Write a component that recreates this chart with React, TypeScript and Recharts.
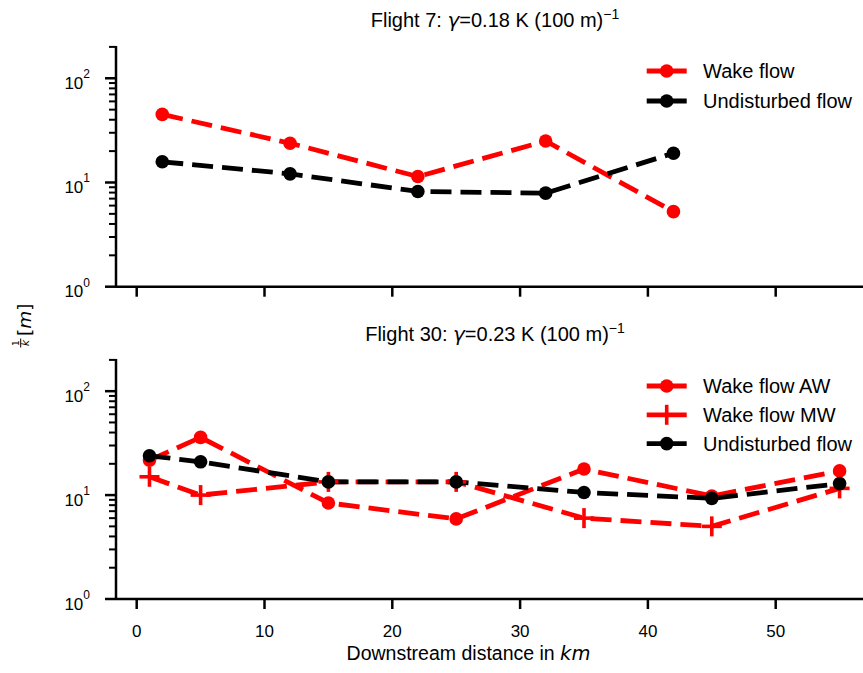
import React from 'react';
import { LineChart, Line, XAxis, YAxis, Legend } from 'recharts';

// ---------- data ----------
const flight7Distance = [2, 12, 22, 32, 42];
const flight7Wake = [45, 23.8, 11.4, 25, 5.25];
const flight7Undisturbed = [15.8, 12.1, 8.2, 7.9, 19.1];

const flight30Distance = [1, 5, 15, 25, 35, 45, 55];
const flight30WakeAW = [21.7, 35.9, 8.4, 5.9, 17.8, 9.8, 17.1];
const flight30WakeMW = [15, 10, 13.4, 13.4, 6, 5, 11.6];
const flight30Undisturbed = [23.9, 20.9, 13.4, 13.4, 10.6, 9.3, 12.9];

const xTicks = [0, 10, 20, 30, 40, 50];
const yMajorTicks = [1, 10, 100];
const yMinorTicks = [2, 3, 4, 5, 6, 7, 8, 9, 20, 30, 40, 50, 60, 70, 80, 90, 200];
const yTicks = [...yMajorTicks, ...yMinorTicks].sort((a, b) => a - b);
const xDomain = [-1.62, 57.7];
const yDomain = [1, 204];

const title7 = { prefix: 'Flight 7: ', value: '=0.18 K (100 m)' };
const title30 = { prefix: 'Flight 30: ', value: '=0.23 K (100 m)' };

const flight7Data = flight7Distance.map((d, i) => ({
  distance: d,
  wake: flight7Wake[i],
  undisturbed: flight7Undisturbed[i],
}));
const flight30Data = flight30Distance.map((d, i) => ({
  distance: d,
  aw: flight30WakeAW[i],
  mw: flight30WakeMW[i],
  undisturbed: flight30Undisturbed[i],
}));

// ---------- styles ----------
const FONT = "'Liberation Sans', Arial, Helvetica, sans-serif";
const MATH = "'DejaVu Sans', sans-serif";
const RED = '#ff0000';
const BLACK = '#000000';
const LINE_W = 4.8;
const DASH = '21 9';
const DOT_R = 6.8;

const YTick = (props: any) => {
  const { x, y, payload } = props;
  const v = payload.value;
  const major = yMajorTicks.includes(v);
  if (!major) {
    return <line x1={x - 7} x2={x} y1={y} y2={y} stroke={BLACK} strokeWidth={2} />;
  }
  const exp = Math.round(Math.log10(v));
  return (
    <g>
      <line x1={x - 11} x2={x} y1={y} y2={y} stroke={BLACK} strokeWidth={2.5} />
      <text x={x - 26} y={y + 10.5} textAnchor="end" fontSize={17} fontFamily={FONT} fill={BLACK}>
        10
        <tspan dy={-10.5} fontSize={12}>{exp}</tspan>
      </text>
    </g>
  );
};

const XTick = (props: any) => {
  const { x, y, payload, showLabel } = props;
  return (
    <g>
      <line x1={x} x2={x} y1={y} y2={y + 10} stroke={BLACK} strokeWidth={2.5} />
      {showLabel && (
        <text x={x} y={y + 38} textAnchor="middle" fontSize={17} fontFamily={FONT} fill={BLACK}>
          {payload.value}
        </text>
      )}
    </g>
  );
};

const CircleDot = (color: string) => (props: any) => {
  const { cx, cy, index } = props;
  if (cx == null || cy == null) return <g key={`c-${index}`} />;
  return <circle key={`c-${index}`} cx={cx} cy={cy} r={DOT_R} fill={color} />;
};

const PlusDot = (color: string) => (props: any) => {
  const { cx, cy, index } = props;
  if (cx == null || cy == null) return <g key={`p-${index}`} />;
  return (
    <g key={`p-${index}`}>
      <line x1={cx - 10} x2={cx + 10} y1={cy} y2={cy} stroke={color} strokeWidth={3.6} />
      <line x1={cx} x2={cx} y1={cy - 10} y2={cy + 10} stroke={color} strokeWidth={3.6} />
    </g>
  );
};

type Row = { label: string; color: string; marker: 'circle' | 'plus' };

const LegendBox = ({ rows, spacing }: { rows: Row[]; spacing: number }) => (
  <svg width={220} height={rows.length * spacing + 20} style={{ display: 'block' }}>
    {rows.map((r, i) => {
      const cy = 16 + i * spacing;
      return (
        <g key={r.label}>
          <line x1={6.7} x2={46.7} y1={cy} y2={cy} stroke={r.color} strokeWidth={LINE_W} />
          {r.marker === 'circle' ? (
            <circle cx={26.7} cy={cy} r={DOT_R} fill={r.color} />
          ) : (
            <g>
              <line x1={16.7} x2={36.7} y1={cy} y2={cy} stroke={r.color} strokeWidth={3.6} />
              <line x1={26.7} x2={26.7} y1={cy - 10} y2={cy + 10} stroke={r.color} strokeWidth={3.6} />
            </g>
          )}
          <text x={63} y={cy + 7.2} fontSize={20} fontFamily={FONT} fill={BLACK}>
            {r.label}
          </text>
        </g>
      );
    })}
  </svg>
);

const legend7: Row[] = [
  { label: 'Wake flow', color: RED, marker: 'circle' },
  { label: 'Undisturbed flow', color: BLACK, marker: 'circle' },
];
const legend30: Row[] = [
  { label: 'Wake flow AW', color: RED, marker: 'circle' },
  { label: 'Wake flow MW', color: RED, marker: 'plus' },
  { label: 'Undisturbed flow', color: BLACK, marker: 'circle' },
];

const axisLine = { stroke: BLACK, strokeWidth: 2.5 };

export default function App() {
  return (
    <div
      style={{
        position: 'absolute',
        left: 0,
        top: 0,
        width: 863,
        height: 673,
        overflow: 'hidden',
        background: '#fff',
      }}
    >
      <div style={{ position: 'absolute', left: 0, top: 0 }}>
        <LineChart
          width={900}
          height={310}
          data={flight7Data}
          margin={{ top: 46, right: 25.9, bottom: 3.3, left: 0 }}
        >
          <XAxis
            dataKey="distance"
            type="number"
            domain={xDomain}
            allowDataOverflow
            ticks={xTicks}
            interval={0}
            height={20}
            tickSize={0}
            tickMargin={0}
            tickLine={false}
            axisLine={axisLine}
            tick={(p: any) => <XTick {...p} showLabel={false} />}
          />
          <XAxis
            xAxisId="top"
            orientation="top"
            dataKey="distance"
            type="number"
            domain={xDomain}
            allowDataOverflow
            height={0}
            tick={false}
            tickLine={false}
            axisLine={axisLine}
          />
          <YAxis
            type="number"
            scale="log"
            domain={yDomain}
            allowDataOverflow
            ticks={yTicks}
            interval={0}
            width={116}
            tickSize={0}
            tickMargin={0}
            tickLine={false}
            axisLine={axisLine}
            tick={(p: any) => <YTick {...p} />}
          />
          <Legend
            layout="vertical"
            align="center"
            verticalAlign="middle"
            wrapperStyle={{ position: 'absolute', left: 640, top: 55, width: 220 }}
            content={() => <LegendBox rows={legend7} spacing={30} />}
          />
          <Line
            dataKey="wake"
            stroke={RED}
            strokeWidth={LINE_W}
            strokeDasharray={DASH}
            dot={CircleDot(RED)}
            activeDot={false}
            isAnimationActive={false}
          />
          <Line
            dataKey="undisturbed"
            stroke={BLACK}
            strokeWidth={LINE_W}
            strokeDasharray={DASH}
            dot={CircleDot(BLACK)}
            activeDot={false}
            isAnimationActive={false}
          />
        </LineChart>
      </div>

      <div style={{ position: 'absolute', left: 0, top: 310 }}>
        <LineChart
          width={900}
          height={363}
          data={flight30Data}
          margin={{ top: 49, right: 25.9, bottom: 24, left: 0 }}
        >
          <XAxis
            dataKey="distance"
            type="number"
            domain={xDomain}
            allowDataOverflow
            ticks={xTicks}
            interval={0}
            height={50}
            tickSize={0}
            tickMargin={0}
            tickLine={false}
            axisLine={axisLine}
            tick={(p: any) => <XTick {...p} showLabel />}
          />
          <XAxis
            xAxisId="top"
            orientation="top"
            dataKey="distance"
            type="number"
            domain={xDomain}
            allowDataOverflow
            height={0}
            tick={false}
            tickLine={false}
            axisLine={axisLine}
          />
          <YAxis
            type="number"
            scale="log"
            domain={yDomain}
            allowDataOverflow
            ticks={yTicks}
            interval={0}
            width={116}
            tickSize={0}
            tickMargin={0}
            tickLine={false}
            axisLine={axisLine}
            tick={(p: any) => <YTick {...p} />}
          />
          <Legend
            layout="vertical"
            align="center"
            verticalAlign="middle"
            wrapperStyle={{ position: 'absolute', left: 640, top: 60, width: 220 }}
            content={() => <LegendBox rows={legend30} spacing={28.8} />}
          />
          <Line
            dataKey="aw"
            stroke={RED}
            strokeWidth={LINE_W}
            strokeDasharray={DASH}
            dot={CircleDot(RED)}
            activeDot={false}
            isAnimationActive={false}
          />
          <Line
            dataKey="mw"
            stroke={RED}
            strokeWidth={LINE_W}
            strokeDasharray={DASH}
            dot={PlusDot(RED)}
            activeDot={false}
            isAnimationActive={false}
          />
          <Line
            dataKey="undisturbed"
            stroke={BLACK}
            strokeWidth={LINE_W}
            strokeDasharray={DASH}
            dot={CircleDot(BLACK)}
            activeDot={false}
            isAnimationActive={false}
          />
        </LineChart>
      </div>

      <svg
        width={863}
        height={673}
        style={{ position: 'absolute', left: 0, top: 0, pointerEvents: 'none' }}
        fontFamily={FONT}
      >
        <text x={495} y={27} textAnchor="middle" fontSize={20} fill={BLACK}>
          {title7.prefix}
          <tspan fontStyle="italic" fontFamily={MATH}>γ</tspan>
          {title7.value}
          <tspan dy={-8} fontSize={14}>−1</tspan>
        </text>
        <text x={495} y={340.5} textAnchor="middle" fontSize={20} fill={BLACK}>
          {title30.prefix}
          <tspan fontStyle="italic" fontFamily={MATH}>γ</tspan>
          {title30.value}
          <tspan dy={-8} fontSize={14}>−1</tspan>
        </text>
        <text x={468.5} y={660} textAnchor="middle" fontSize={19.5} fill={BLACK}>
          Downstream distance in{' '}
          <tspan fontStyle="italic" fontFamily={MATH}>km</tspan>
        </text>
        <g transform="translate(31,348) rotate(-90)" fontFamily={MATH}>
          <text x={5} y={-12} fontSize={9} textAnchor="middle" fill={BLACK}>1</text>
          <line x1={0.5} x2={9.5} y1={-10.3} y2={-10.3} stroke={BLACK} strokeWidth={1} />
          <text x={5} y={-2.5} fontSize={10.5} fontStyle="italic" textAnchor="middle" fill={BLACK}>k</text>
          <text x={12} y={0} fontSize={18.5} fill={BLACK}>
            [<tspan fontStyle="italic">m</tspan>]
          </text>
        </g>
      </svg>
    </div>
  );
}
